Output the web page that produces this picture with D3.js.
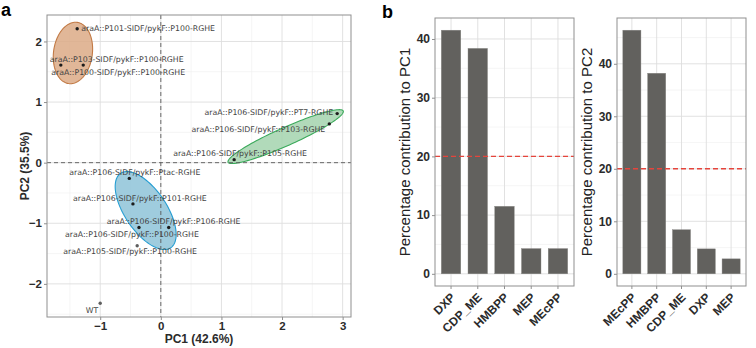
<!DOCTYPE html>
<html>
<head>
<meta charset="utf-8">
<script src="https://cdn.jsdelivr.net/npm/d3@7"></script>
<style>
  html,body{margin:0;padding:0;background:#fff;}
  svg{display:block;font-family:"Liberation Sans",Arial,sans-serif;}
</style>
</head>
<body>
<div id="fig"></div>
<script>
// ---- data ----
var pcaNames=["araA::P101-SIDF/pykF::P100-RGHE","araA::P103-SIDF/pykF::P100-RGHE","araA::P100-SIDF/pykF::P100-RGHE",
  "araA::P106-SIDF/pykF::PT7-RGHE","araA::P106-SIDF/pykF::P103-RGHE","araA::P106-SIDF/pykF::P105-RGHE",
  "araA::P106-SIDF/pykF::Ptac-RGHE","araA::P106-SIDF/pykF::P101-RGHE","araA::P106-SIDF/pykF::P106-RGHE",
  "araA::P106-SIDF/pykF::P100-RGHE","araA::P105-SIDF/pykF::P100-RGHE","WT"];
var pcaPC1=[-1.38,-1.65,-1.28, 2.91,2.78,1.21, -0.52,-0.46,0.13,-0.36, -0.39,-1.00];
var pcaPC2=[ 2.21, 1.61, 1.61, 0.81,0.64,0.05, -0.26,-0.68,-1.07,-1.07, -1.37,-2.32];
var pcaGroup=["orange","orange","orange","green","green","green","blue","blue","blue","blue","none","none"];

// cluster ellipses (data units): centre, semi-axes, angle in degrees
var ellGroup=["orange","blue","green"];
var ellCx=[-1.45,-0.25,2.06];
var ellCy=[1.81,-0.79,0.43];
var ellA=[0.51,0.74,1.04];
var ellB=[0.32,0.345,0.15];
var ellAngle=[82,-56,24];

var pc1Vars=["DXP","CDP_ME","HMBPP","MEP","MEcPP"];
var pc1Contrib=[41.5,38.4,11.5,4.3,4.3];
var pc2Vars=["MEcPP","HMBPP","CDP_ME","DXP","MEP"];
var pc2Contrib=[46.4,38.2,8.4,4.75,2.85];
var cutoff=20;

// ---- label layout (px offsets from the point, ggrepel-like) ----
var labDx=[4,-11,-32, -4,-4,-61, -60,-60,-62,-74,-74,-2];
var labDy=[0,-6,7, -1,5,-6, -6,-6,-6,7,6,7];
var labAnchor=["start","start","start","end","end","start","start","start","start","start","start","end"];

var fill={orange:"#dcaa86",blue:"#8ec3d8",green:"#a3d4ae"};
var edge={orange:"#c27a45",blue:"#249dd2",green:"#3aa95a"};

var W=756,H=348;
var svg=d3.select("#fig").append("svg").attr("width",W).attr("height",H);

function expand(lo,hi){var r=hi-lo;return [lo-0.05*r,hi+0.05*r];}

// ================= panel a =================
var A={l:47,r:351,t:15,b:317};
var xA=d3.scaleLinear().domain(expand(d3.min(pcaPC1),d3.max(pcaPC1))).range([A.l,A.r]);
var yA=d3.scaleLinear().domain(expand(d3.min(pcaPC2),d3.max(pcaPC2))).range([A.b,A.t]);
var ga=svg.append("g");

var xMaj=[-1,0,1,2,3], xMin=[-1.5,-0.5,0.5,1.5,2.5];
var yMaj=[-2,-1,0,1,2], yMin=[-2.5,-1.5,-0.5,0.5,1.5];
ga.selectAll("line.xmin").data(xMin).enter().append("line")
  .attr("x1",xA).attr("x2",xA).attr("y1",A.t).attr("y2",A.b).attr("stroke","#efefef").attr("stroke-width",0.6);
ga.selectAll("line.ymin").data(yMin.filter(function(v){return yA(v)<A.b;})).enter().append("line")
  .attr("y1",yA).attr("y2",yA).attr("x1",A.l).attr("x2",A.r).attr("stroke","#efefef").attr("stroke-width",0.6);
ga.selectAll("line.xmaj").data(xMaj).enter().append("line")
  .attr("x1",xA).attr("x2",xA).attr("y1",A.t).attr("y2",A.b).attr("stroke","#dedede").attr("stroke-width",0.9);
ga.selectAll("line.ymaj").data(yMaj).enter().append("line")
  .attr("y1",yA).attr("y2",yA).attr("x1",A.l).attr("x2",A.r).attr("stroke","#dedede").attr("stroke-width",0.9);

// ellipses
var line=d3.line().curve(d3.curveLinearClosed);
ellGroup.forEach(function(g,i){
  var th=ellAngle[i]*Math.PI/180, pts=[];
  for(var k=0;k<120;k++){
    var t=k/120*2*Math.PI;
    var ex=ellA[i]*Math.cos(t), ey=ellB[i]*Math.sin(t);
    pts.push([xA(ellCx[i]+ex*Math.cos(th)-ey*Math.sin(th)), yA(ellCy[i]+ex*Math.sin(th)+ey*Math.cos(th))]);
  }
  ga.append("path").attr("d",line(pts)).attr("fill",fill[g]).attr("fill-opacity",0.85)
    .attr("stroke",edge[g]).attr("stroke-width",1.1);
});

// zero lines
ga.append("line").attr("x1",xA(0)).attr("x2",xA(0)).attr("y1",A.t).attr("y2",A.b)
  .attr("stroke","#5a5a5a").attr("stroke-width",0.9).attr("stroke-dasharray","4,3");
ga.append("line").attr("y1",yA(0)).attr("y2",yA(0)).attr("x1",A.l).attr("x2",A.r)
  .attr("stroke","#5a5a5a").attr("stroke-width",0.9).attr("stroke-dasharray","4,3");

// points + labels
pcaNames.forEach(function(n,i){
  var px=xA(pcaPC1[i]), py=yA(pcaPC2[i]);
  ga.append("circle").attr("cx",px).attr("cy",py).attr("r",1.7)
    .attr("fill",pcaGroup[i]==="none"?"#5e5e5e":"#1c1c1c");
  ga.append("text").attr("x",px+labDx[i]).attr("y",py+labDy[i]).attr("dy","0.35em")
    .attr("text-anchor",labAnchor[i]).style("font-family","'DejaVu Sans',sans-serif")
    .style("font-size","7.8px").attr("fill","#444").text(n);
});

ga.append("rect").attr("x",A.l).attr("y",A.t).attr("width",A.r-A.l).attr("height",A.b-A.t)
  .attr("fill","none").attr("stroke","#8f8f8f").attr("stroke-width",1);

var axXa=ga.append("g").attr("transform","translate(0,"+A.b+")")
  .call(d3.axisBottom(xA).tickValues(xMaj).tickSize(3).tickPadding(2).tickFormat(d3.format("d")));
var axYa=ga.append("g").attr("transform","translate("+A.l+",0)")
  .call(d3.axisLeft(yA).tickValues(yMaj).tickSize(3).tickPadding(2).tickFormat(d3.format("d")));
[axXa,axYa].forEach(function(ax){
  ax.select(".domain").remove();
  ax.selectAll("line").attr("stroke","#8f8f8f");
  ax.selectAll("text").style("font-size","11.5px").style("font-weight","bold").attr("fill","#2b2b2b")
    .style("font-family","'Liberation Sans',Arial,sans-serif");
});
ga.append("text").attr("x",(A.l+A.r)/2).attr("y",343).attr("text-anchor","middle")
  .style("font-size","12px").style("font-weight","bold").attr("fill","#2b2b2b").text("PC1 (42.6%)");
ga.append("text").attr("transform","translate(29,"+((A.t+A.b)/2)+") rotate(-90)").attr("text-anchor","middle")
  .style("font-size","12px").style("font-weight","bold").attr("fill","#2b2b2b").text("PC2 (35.5%)");
svg.append("text").attr("x",1).attr("y",16).style("font-size","18px").style("font-weight","bold").text("a");

// ================= panel b =================
svg.append("text").attr("x",382).attr("y",18).style("font-size","18px").style("font-weight","bold").text("b");

function barPanel(box,cats,vals,title){
  var g=svg.append("g");
  var x=d3.scaleBand().domain(cats).range([box.l,box.r]).paddingInner(0.27).paddingOuter(0.235);
  var y=d3.scaleLinear().domain(expand(0,d3.max(vals))).range([box.b,box.t]);
  var maj=[0,10,20,30,40], mn=[5,15,25,35,45].filter(function(v){return y(v)>box.t;});
  g.selectAll("line.mn").data(mn).enter().append("line").attr("x1",box.l).attr("x2",box.r)
    .attr("y1",y).attr("y2",y).attr("stroke","#efefef").attr("stroke-width",0.6);
  g.selectAll("line.mj").data(maj).enter().append("line").attr("x1",box.l).attr("x2",box.r)
    .attr("y1",y).attr("y2",y).attr("stroke","#dedede").attr("stroke-width",0.9);
  g.selectAll("line.vx").data(cats).enter().append("line")
    .attr("x1",function(d){return x(d)+x.bandwidth()/2;}).attr("x2",function(d){return x(d)+x.bandwidth()/2;})
    .attr("y1",box.t).attr("y2",box.b).attr("stroke","#dedede").attr("stroke-width",0.9);
  g.selectAll("rect.bar").data(cats).enter().append("rect")
    .attr("x",function(d){return x(d);}).attr("width",x.bandwidth())
    .attr("y",function(d,i){return y(vals[i]);}).attr("height",function(d,i){return y(0)-y(vals[i]);})
    .attr("fill","#62615e").attr("stroke","#8a8986").attr("stroke-width",0.4);
  g.append("line").attr("x1",box.l).attr("x2",box.r).attr("y1",y(cutoff)).attr("y2",y(cutoff))
    .attr("stroke","#e5453c").attr("stroke-width",1.4).attr("stroke-dasharray","5,3");
  g.append("rect").attr("x",box.l).attr("y",box.t).attr("width",box.r-box.l).attr("height",box.b-box.t)
    .attr("fill","none").attr("stroke","#8f8f8f").attr("stroke-width",1);
  var ay=g.append("g").attr("transform","translate("+box.l+",0)")
    .call(d3.axisLeft(y).tickValues(maj).tickSize(3).tickPadding(2));
  var ax=g.append("g").attr("transform","translate(0,"+box.b+")")
    .call(d3.axisBottom(x).tickSize(3).tickPadding(2));
  [ax,ay].forEach(function(a){
    a.select(".domain").remove();
    a.selectAll("line").attr("stroke","#8f8f8f");
    a.selectAll("text").style("font-size","12px").style("font-weight","bold").attr("fill","#2b2b2b")
      .style("font-family","'Liberation Sans',Arial,sans-serif");
  });
  ax.selectAll("text").attr("text-anchor","end").attr("dy","0.35em").attr("y",0)
    .attr("transform","translate(2,9) rotate(-45)");
  g.append("text").attr("transform","translate("+(box.l-25)+","+((box.t+box.b)/2)+") rotate(-90)")
    .attr("text-anchor","middle").style("font-size","15px").attr("fill","#222").text(title);
}
barPanel({l:435,r:574,t:18,b:286},pc1Vars,pc1Contrib,"Percentage contribution to PC1");
barPanel({l:617,r:746,t:18,b:286},pc2Vars,pc2Contrib,"Percentage contribution to PC2");
</script>
</body>
</html>
